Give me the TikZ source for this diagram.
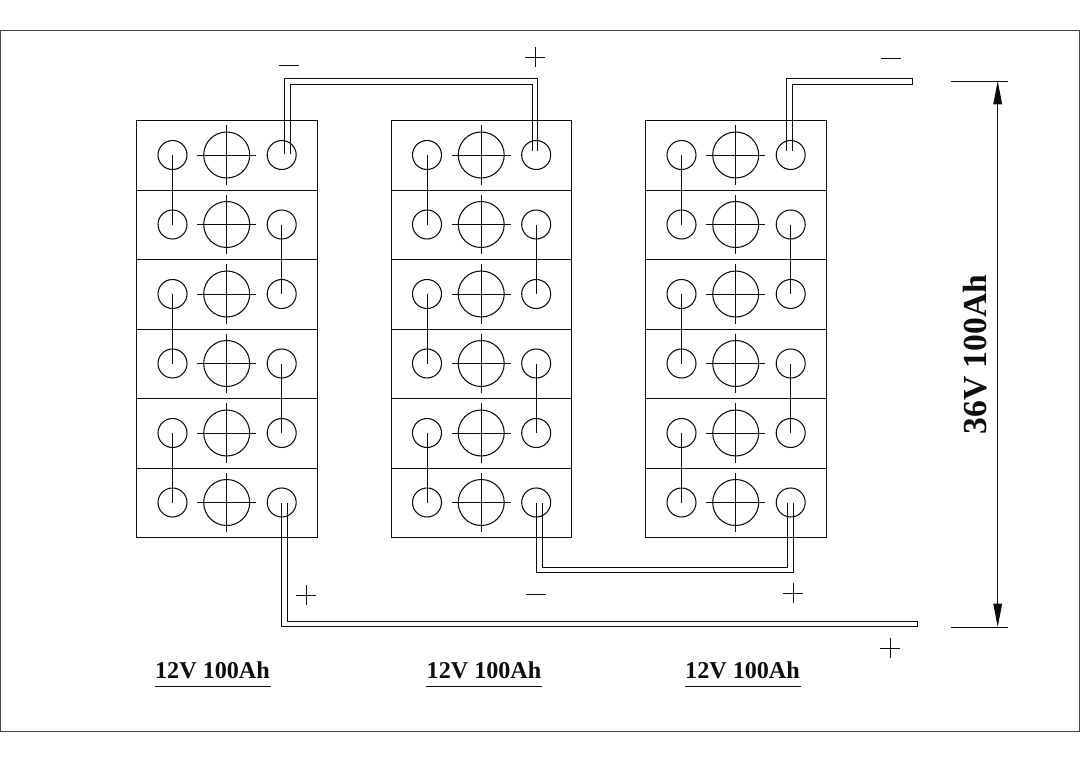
\documentclass[tikz,border=0pt]{standalone}
\usepackage{fontspec}
\setmainfont{Liberation Serif}
\usetikzlibrary{arrows.meta}
\definecolor{ink}{gray}{0.05}
\tikzset{
  x=0.75pt,y=-0.75pt,
  cellbox/.style={draw=ink,line width=0.74pt,rectangle,minimum width=135.4pt,minimum height=52.125pt,inner sep=0pt},
  term/.style={draw=ink,line width=0.8pt,circle,minimum size=21.75pt,inner sep=0pt},
  vent/.style={draw=ink,line width=0.8pt,circle,minimum size=34.5pt,inner sep=0pt},
  wire/.style={draw=ink,line width=0.74pt},
  sign/.style={draw=ink,line width=0.72pt},
  dimline/.style={draw=ink,line width=0.74pt,{Triangle[length=17.5pt,width=6.5pt]}-{Triangle[length=17.5pt,width=6.5pt]}},
  lbl/.style={font=\bfseries\fontsize{18.1pt}{19pt}\selectfont,text=ink,inner sep=0pt},
  biglbl/.style={font=\bfseries\fontsize{25.2pt}{26pt}\selectfont,text=ink,inner sep=0pt,rotate=90}
}
\begin{document}
\begin{tikzpicture}
\useasboundingbox (0,0) rectangle (1080,763);
\node[draw=ink!75,line width=0.74pt,rectangle,inner sep=0pt,minimum width=809.25pt,minimum height=525.75pt] (frame) at (540,380.5) {};
% batteries
\foreach \b/\bx in {1/0,2/254.5,3/509}{
  \foreach \r/\ry/\cy in {1/155.25/155,2/224.75/224.5,3/294.25/294,4/363.75/363.5,5/433.25/433,6/502.75/502.5}{
    \node[cellbox] (c\b\r) at ({227+\bx},\ry) {};
    \node[term] (l\b\r) at ({172.5+\bx},\cy) {};
    \node[term] (r\b\r) at ({281.7+\bx},\cy) {};
    \node[vent] (v\b\r) at ({226.7+\bx},\cy) {};
    \draw[wire] ([xshift=-4.5pt]v\b\r.west) -- ([xshift=4.5pt]v\b\r.east);
    \draw[wire] ([yshift=4.5pt]v\b\r.north) -- ([yshift=-4.5pt]v\b\r.south);
  }
  \draw[wire] (l\b1.center) -- (l\b2.center);
  \draw[wire] (l\b3.center) -- (l\b4.center);
  \draw[wire] (l\b5.center) -- (l\b6.center);
  \draw[wire] (r\b2.center) -- (r\b3.center);
  \draw[wire] (r\b4.center) -- (r\b5.center);
}
% levels of the double wires
\coordinate (yA) at (0,78.7);
\coordinate (yB) at (0,84);
\coordinate (yC) at (0,567);
\coordinate (yD) at (0,572.4);
\coordinate (yE) at (0,621.3);
\coordinate (yF) at (0,626.7);
% wire ends on the terminals
\coordinate (a1) at ([xshift=2.1pt,yshift=0.75pt]r11.center);
\coordinate (a2) at ([xshift=6.6pt,yshift=0.75pt]r11.center);
\coordinate (b1) at ([xshift=0.8pt,yshift=3.2pt]r21.center);
\coordinate (b2) at ([xshift=-3.15pt,yshift=3.2pt]r21.center);
\coordinate (e1) at ([xshift=-3.3pt,yshift=3.2pt]r31.center);
\coordinate (e2) at ([xshift=1pt,yshift=3.2pt]r31.center);
\coordinate (f1) at ([xshift=0.1pt]r16.center);
\coordinate (f2) at ([xshift=4.35pt]r16.center);
\coordinate (g1) at ([xshift=0.4pt]r26.center);
\coordinate (g2) at ([xshift=4.4pt]r26.center);
\coordinate (h1) at ([xshift=1.95pt]r36.center);
\coordinate (h2) at ([xshift=-2.25pt]r36.center);
% free ends
\coordinate (outA) at (912.3,78.7);
\coordinate (outB) at (912.3,84);
\coordinate (outC) at (917,626.7);
\coordinate (outD) at (917,621.3);
% top wire between batteries 1 and 2
\draw[wire] (a1) -- (a1 |- yA) -- (b1 |- yA) -- (b1);
\draw[wire] (a2) -- (a2 |- yB) -- (b2 |- yB) -- (b2);
% bottom wire between batteries 2 and 3
\draw[wire] (g1) -- (g1 |- yD) -- (h1 |- yD) -- (h1);
\draw[wire] (g2) -- (g2 |- yC) -- (h2 |- yC) -- (h2);
% outputs
\draw[wire] (e1) -- (e1 |- yA) -- (outA) -- (outB) -- (e2 |- yB) -- (e2);
\draw[wire] (f1) -- (f1 |- yF) -- (outC) -- (outD) -- (f2 |- yE) -- (f2);
% signs
\foreach \n/\x/\y in {m1/289/65,m2/536/594,m3/891/58}{
  \coordinate (\n) at (\x,\y);
  \draw[sign] ([xshift=-7.5pt]\n) -- ([xshift=7.5pt]\n);
}
\foreach \n/\x/\y in {p1/306/595,p2/535/57,p3/793/593,p4/890/648}{
  \coordinate (\n) at (\x,\y);
  \draw[sign] ([xshift=-7.5pt]\n) -- ([xshift=7.5pt]\n);
  \draw[sign] ([yshift=-7.5pt]\n) -- ([yshift=7.5pt]\n);
}
% dimension
\coordinate (d1a) at (951,81); \coordinate (d1b) at (1008,81);
\coordinate (d2a) at (951,627); \coordinate (d2b) at (1008,627);
\coordinate (dt) at (997.7,81); \coordinate (db) at (997.7,627);
\draw[wire] (d1a) -- (d1b);
\draw[wire] (d2a) -- (d2b);
\draw[dimline] (dt) -- (db);
\node[biglbl] (v36) at (975.5,354.5) {36V 100Ah};
% labels
\foreach \n/\x in {a/212.5,b/484,c/742.5}{
  \node[lbl] (t\n) at (\x,670.5) {12V 100Ah};
  \draw[wire] (\x-58,686) -- (\x+58,686);
}
\end{tikzpicture}
\end{document}
